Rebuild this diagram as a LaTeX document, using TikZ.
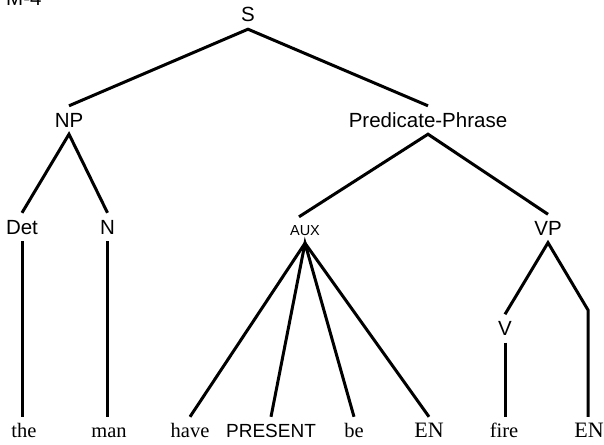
\documentclass[tikz,border=0pt]{standalone}
\usepackage{fontspec}
\setmainfont{Liberation Serif}
\setsansfont{Liberation Sans}
\begin{document}
\begin{tikzpicture}[x=1pt,y=-1pt,
  branch/.style={line width=3pt},
  cat/.style={font=\sffamily\fontsize{20.5}{24}\selectfont, text height=14pt, text depth=0pt, inner xsep=0pt, inner ysep=7pt},
  smallcat/.style={font=\sffamily\fontsize{14.5}{17}\selectfont, text height=10pt, text depth=0pt, inner xsep=0pt, inner ysep=8pt},
  word/.style={font=\fontsize{20.5}{24}\selectfont, anchor=base, text height=13pt, text depth=4pt, inner xsep=0pt, inner ysep=7pt},
  sfword/.style={word, font=\sffamily\fontsize{19}{23}\selectfont},
  capword/.style={word, font=\fontsize{22}{26}\selectfont}]
\useasboundingbox (0,0) rectangle (604,444);

% figure tag, partly cut by the top edge
\node[cat, anchor=base west] (tag) at (6,6) {M-4};

% category labels
\node[cat] (S)   at (248,15)  {S};
\node[cat] (NP)  at (69,120)  {NP};
\node[cat] (PP)  at (428,120) {Predicate-Phrase};
\node[cat] (Det) at (22,227)  {Det};
\node[cat] (N)   at (107.5,227) {N};
\node[smallcat] (AUX) at (305,230) {AUX};
\node[cat] (VP)  at (548,228.5) {VP};
\node[cat] (V)   at (505,328.5) {V};
\coordinate (corner) at (588,310);

% terminal string
\node[word]    (the)     at (24,437)  {the};
\node[word]    (man)     at (109,437) {man};
\node[word]    (have)    at (190,437) {have};
\node[sfword]  (PRESENT) at (271,437) {PRESENT};
\node[word]    (be)      at (354,437) {be};
\node[capword] (ENa)     at (429,437) {EN};
\node[word]    (fire)    at (504,437) {fire};
\node[capword] (ENb)     at (589,437) {EN};

% branches
\draw[branch] (NP.north) -- (S.south) -- (PP.north);
\draw[branch] (Det.north) -- (NP.south) -- (N.north);
\draw[branch] ([xshift=-6pt]AUX.north) -- (PP.south) -- (VP.north);
\draw[branch] (have.north) -- (AUX.south) -- (ENa.north);
\draw[branch] (PRESENT.north) -- (AUX.south) -- (be.north);
\draw[branch] (V.north) -- (VP.south) -- (corner) -- (corner |- ENb.north);
\draw[branch] (Det.south) -- (Det.south |- the.north);
\draw[branch] (N.south) -- (N.south |- man.north);
\draw[branch] (V.south) -- (V.south |- fire.north);
\end{tikzpicture}
\end{document}
